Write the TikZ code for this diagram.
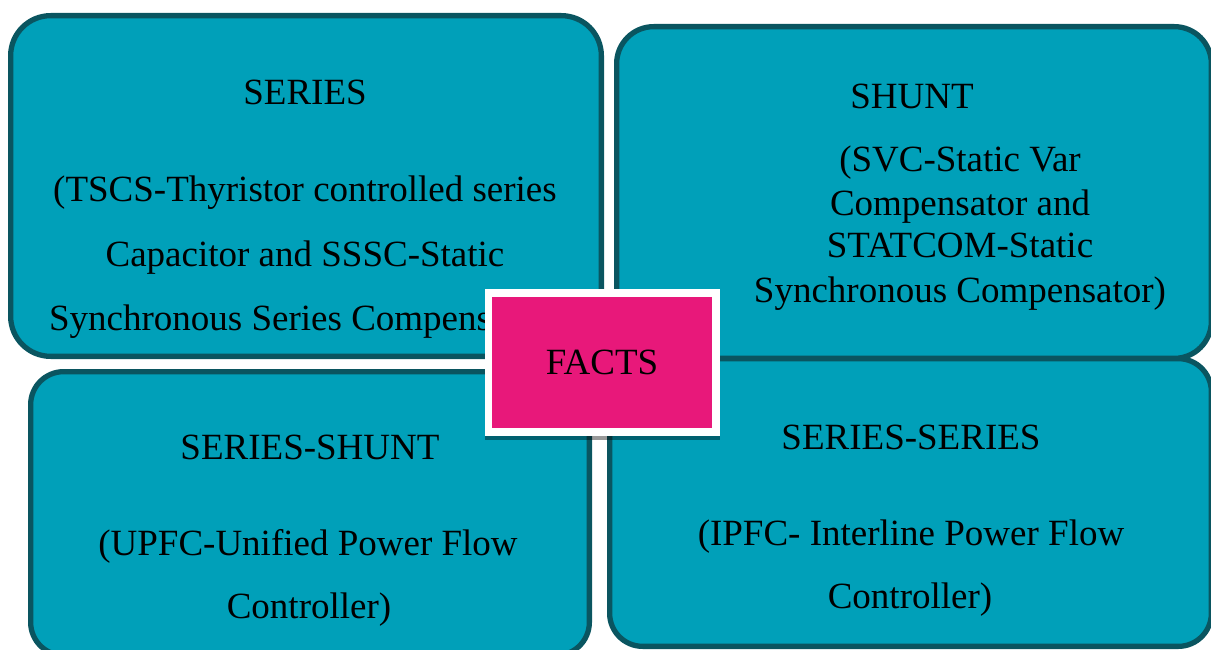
\documentclass[tikz,border=0pt]{standalone}
\usepackage{fontspec}
\setmainfont{Liberation Serif}
\usetikzlibrary{shadows}
\definecolor{tealfill}{RGB}{0,160,185}
\definecolor{tealedge}{RGB}{10,85,96}
\definecolor{factspink}{RGB}{232,24,122}
\begin{document}
\begin{tikzpicture}[x=1pt,y=-1pt,
  panel/.style={draw=tealedge, fill=tealfill, line width=5.3pt, inner sep=0pt},
  txt/.style={anchor=base, inner sep=0pt, font=\fontsize{37}{44}\selectfont},
  frame/.style={fill=white, inner sep=0pt, minimum width=235pt, minimum height=147pt,
    drop shadow={shadow xshift=0pt, shadow yshift=-4pt, opacity=.4, fill=black}},
  core/.style={fill=factspink, inner sep=0pt, minimum width=220pt, minimum height=131pt,
    font=\fontsize{37}{44}\selectfont}]
\useasboundingbox (0,0) rectangle (1211,650);

% the four controller families
\node[panel, rounded corners=40pt, minimum width=590.7pt, minimum height=340.7pt] (series) at (306,186) {};
\node[panel, rounded corners=37pt, minimum width=594.7pt, minimum height=331.7pt] (shunt) at (914,192.5) {};
\node[panel, rounded corners=33pt, minimum width=558.7pt, minimum height=283.7pt] (serieshunt) at (310,513.5) {};
\node[panel, rounded corners=33pt, minimum width=601.7pt, minimum height=287.7pt] (seriesseries) at (910.5,502.5) {};

% series
\node[txt] (seriesT) at (305,105) {SERIES};
\node[txt] (seriesA) at (305,202) {(TSCS-Thyristor controlled series};
\node[txt] (seriesB) at (305,266) {Capacitor and SSSC-Static};
\node[txt] (seriesC) at (305,330) {Synchronous Series Compensator)};

% shunt
\node[txt] (shuntT) at (912,109) {SHUNT};
\node[txt] (shuntA) at (960,172) {(SVC-Static Var};
\node[txt] (shuntB) at (960,215) {Compensator and};
\node[txt] (shuntC) at (960,258) {STATCOM-Static};
\node[txt] (shuntD) at (960,302) {Synchronous Compensator)};

% series-shunt
\node[txt] (sshT) at (310,459) {SERIES-SHUNT};
\node[txt] (sshA) at (308,555) {(UPFC-Unified Power Flow};
\node[txt] (sshB) at (309,618) {Controller)};

% series-series
\node[txt] (sseT) at (911,449) {SERIES-SERIES};
\node[txt] (sseA) at (911,545) {(IPFC- Interline Power Flow};
\node[txt] (sseB) at (910,608) {Controller)};

% central FACTS block
\node[frame] (factsframe) at (602.5,362.5) {};
\node[core] (facts) at (602,362.5) {FACTS};
\end{tikzpicture}
\end{document}
